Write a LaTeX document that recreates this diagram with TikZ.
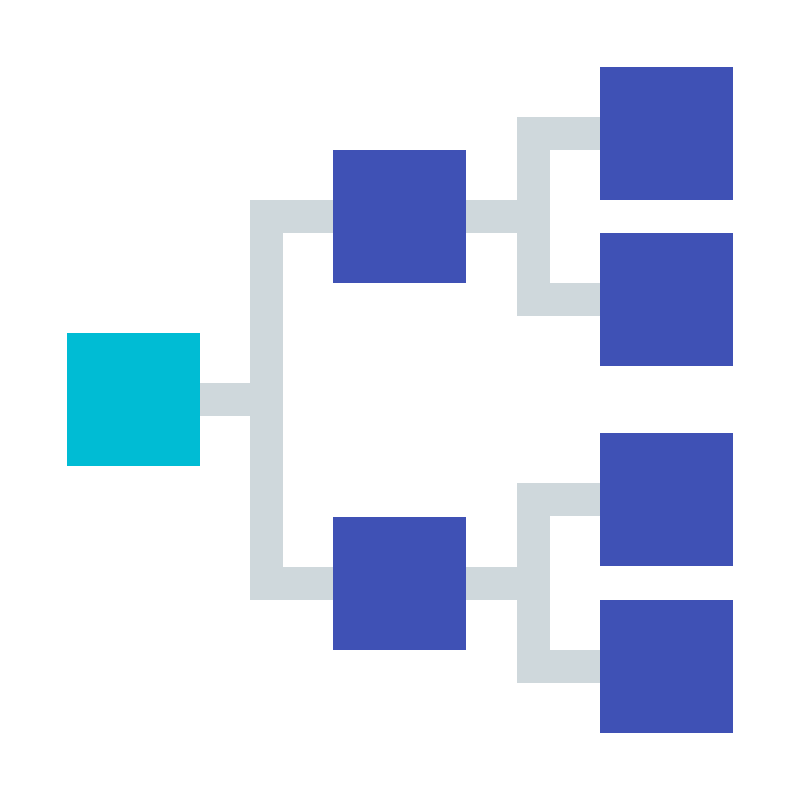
\documentclass[tikz,border=0pt]{standalone}
\definecolor{rootc}{HTML}{00BCD4}
\definecolor{boxc}{HTML}{3F51B5}
\definecolor{linec}{HTML}{CFD8DC}
\begin{document}
\begin{tikzpicture}[x=0.01cm,y=-0.01cm,
  sq/.style={draw=none,minimum size=1.33cm,inner sep=0pt,outer sep=0pt},
  conn/.style={draw=linec,line width=0.33cm,line join=miter,line cap=butt}]
\fill[white] (0,0) rectangle (800,800);
\useasboundingbox (0,0) rectangle (800,800);
\coordinate (j0) at (266.5,399.5);
\coordinate (j1) at (533.5,216.5);
\coordinate (j2) at (533.5,583.5);
\node[sq,fill=rootc] (r) at (133.5,399.5) {};
\node[sq,fill=boxc] (m1) at (399.5,216.5) {};
\node[sq,fill=boxc] (m2) at (399.5,583.5) {};
\node[sq,fill=boxc] (l1) at (666.5,133.5) {};
\node[sq,fill=boxc] (l2) at (666.5,299.5) {};
\node[sq,fill=boxc] (l3) at (666.5,499.5) {};
\node[sq,fill=boxc] (l4) at (666.5,666.5) {};
\draw[conn] (r.east) -- (j0);
\draw[conn] (m1.west) -| (j0);
\draw[conn] (m2.west) -| (j0);
\draw[conn] (m1.east) -- (j1);
\draw[conn] (l1.west) -| (j1);
\draw[conn] (l2.west) -| (j1);
\draw[conn] (m2.east) -- (j2);
\draw[conn] (l3.west) -| (j2);
\draw[conn] (l4.west) -| (j2);
\end{tikzpicture}
\end{document}
